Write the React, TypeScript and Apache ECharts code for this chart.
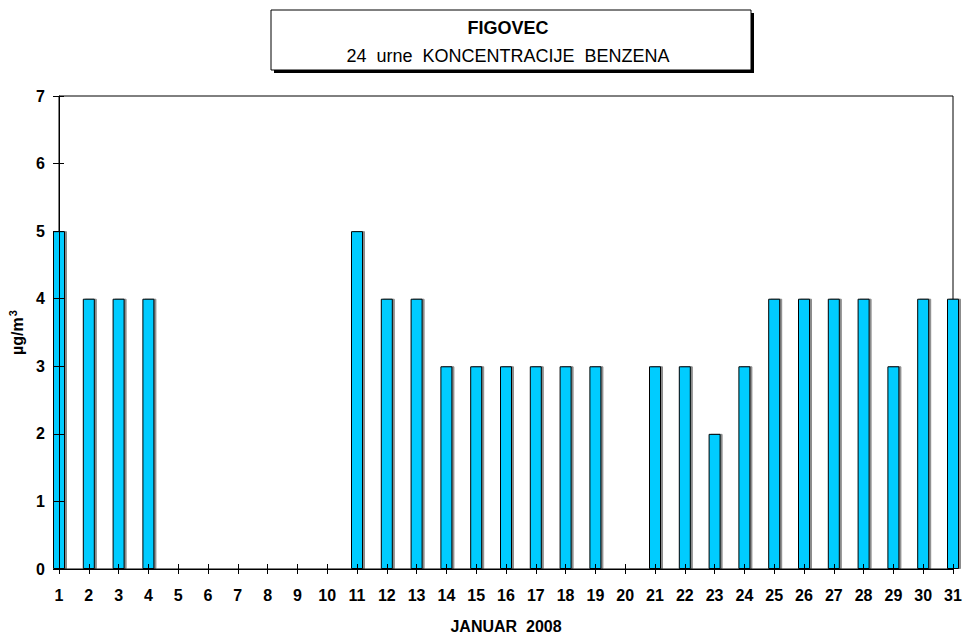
import React, { useEffect, useRef } from "react";
import * as echarts from "echarts";

const days: string[] = [
  "1", "2", "3", "4", "5", "6", "7", "8", "9", "10",
  "11", "12", "13", "14", "15", "16", "17", "18", "19", "20",
  "21", "22", "23", "24", "25", "26", "27", "28", "29", "30", "31",
];
const benzene: (number | null)[] = [
  5, 4, 4, 4, null, null, null, null, null, null,
  5, 4, 4, 3, 3, 3, 3, 3, 3, null,
  3, 3, 2, 3, 4, 4, 4, 4, 3, 4, 4,
];
const titleMain = "FIGOVEC";
const titleSub = "24  urne  KONCENTRACIJE  BENZENA";
const xName = "JANUAR  2008";
const yName = "µg/m{sup|3}";

export default function App() {
  const ref = useRef<HTMLDivElement>(null);
  useEffect(() => {
    if (!ref.current) return;
    const chart = echarts.init(ref.current, undefined, { renderer: "svg" });
    const font = "Liberation Sans, Arial, sans-serif";
    chart.setOption({
      animation: false,
      backgroundColor: "#ffffff",
      textStyle: { fontFamily: font },
      grid: {
        left: 59,
        right: 11,
        top: 96,
        bottom: 65,
        show: true,
        borderColor: "#000",
        borderWidth: 1,
        containLabel: false,
        outerBoundsMode: "none",
      },
      graphic: [
        {
          type: "rect",
          shape: { x: 274, y: 13, width: 480, height: 60 },
          style: { fill: "#000" },
          silent: true,
        },
        {
          type: "rect",
          shape: { x: 271, y: 10, width: 480, height: 60 },
          style: { fill: "#fff", stroke: "#000", lineWidth: 1 },
          silent: true,
        },
        {
          type: "text",
          x: 508,
          y: 28,
          style: {
            text: titleMain,
            fill: "#000",
            font: "bold 18px " + font,
            textAlign: "center",
            textVerticalAlign: "middle",
          },
        },
        {
          type: "text",
          x: 508,
          y: 56,
          style: {
            text: titleSub,
            fill: "#000",
            font: "18px " + font,
            textAlign: "center",
            textVerticalAlign: "middle",
          },
        },
      ],
      xAxis: [
        {
          type: "category",
          data: days,
          boundaryGap: false,
          name: xName,
          nameLocation: "middle",
          nameGap: 49,
          nameTextStyle: { fontWeight: "bold", fontSize: 16, color: "#000" },
          axisLine: { lineStyle: { color: "#000", width: 1 } },
          axisTick: { show: true, length: 5, alignWithLabel: true, lineStyle: { color: "#000" } },
          axisLabel: { fontWeight: "bold", fontSize: 16, color: "#000", margin: 18, interval: 0 },
          splitLine: { show: false },
          z: 5,
        },
        {
          type: "category",
          data: days,
          boundaryGap: false,
          position: "bottom",
          axisLine: { show: false },
          axisTick: { show: true, inside: true, length: 5, lineStyle: { color: "#000" } },
          axisLabel: { show: false },
          splitLine: { show: false },
          z: 5,
        },
      ],
      yAxis: [
        {
          type: "value",
          min: 0,
          max: 7,
          interval: 1,
          name: yName,
          nameLocation: "middle",
          nameGap: 32,
          nameRotate: 90,
          nameTextStyle: {
            fontWeight: "bold",
            fontSize: 16,
            color: "#000",
            rich: {
              sup: { fontWeight: "bold", fontSize: 11, color: "#000", verticalAlign: "top", padding: [0, 0, 8, 1] },
            },
          },
          axisLine: { show: true, lineStyle: { color: "#000", width: 1 } },
          axisTick: { show: true, length: 6, lineStyle: { color: "#000" } },
          axisLabel: { fontWeight: "bold", fontSize: 16, color: "#000", margin: 14 },
          splitLine: { show: false },
          z: 5,
        },
        {
          type: "value",
          min: 0,
          max: 7,
          interval: 1,
          position: "left",
          axisLine: { show: false },
          axisTick: { show: true, inside: true, length: 5, lineStyle: { color: "#000" } },
          axisLabel: { show: false },
          splitLine: { show: false },
          z: 5,
        },
      ],
      series: [
        {
          type: "bar",
          data: benzene,
          barWidth: 12,
          clip: true,
          xAxisIndex: 0,
          yAxisIndex: 0,
          itemStyle: {
            color: "#00ccff",
            borderColor: "#000",
            borderWidth: 1,
            shadowColor: "rgba(0,0,0,0.45)",
            shadowOffsetX: 2,
            shadowOffsetY: 0,
            shadowBlur: 0,
          },
        },
      ],
    });
    return () => chart.dispose();
  }, []);
  return <div ref={ref} style={{ width: 964, height: 634, position: "absolute", left: 0, top: 0 }} />;
}
